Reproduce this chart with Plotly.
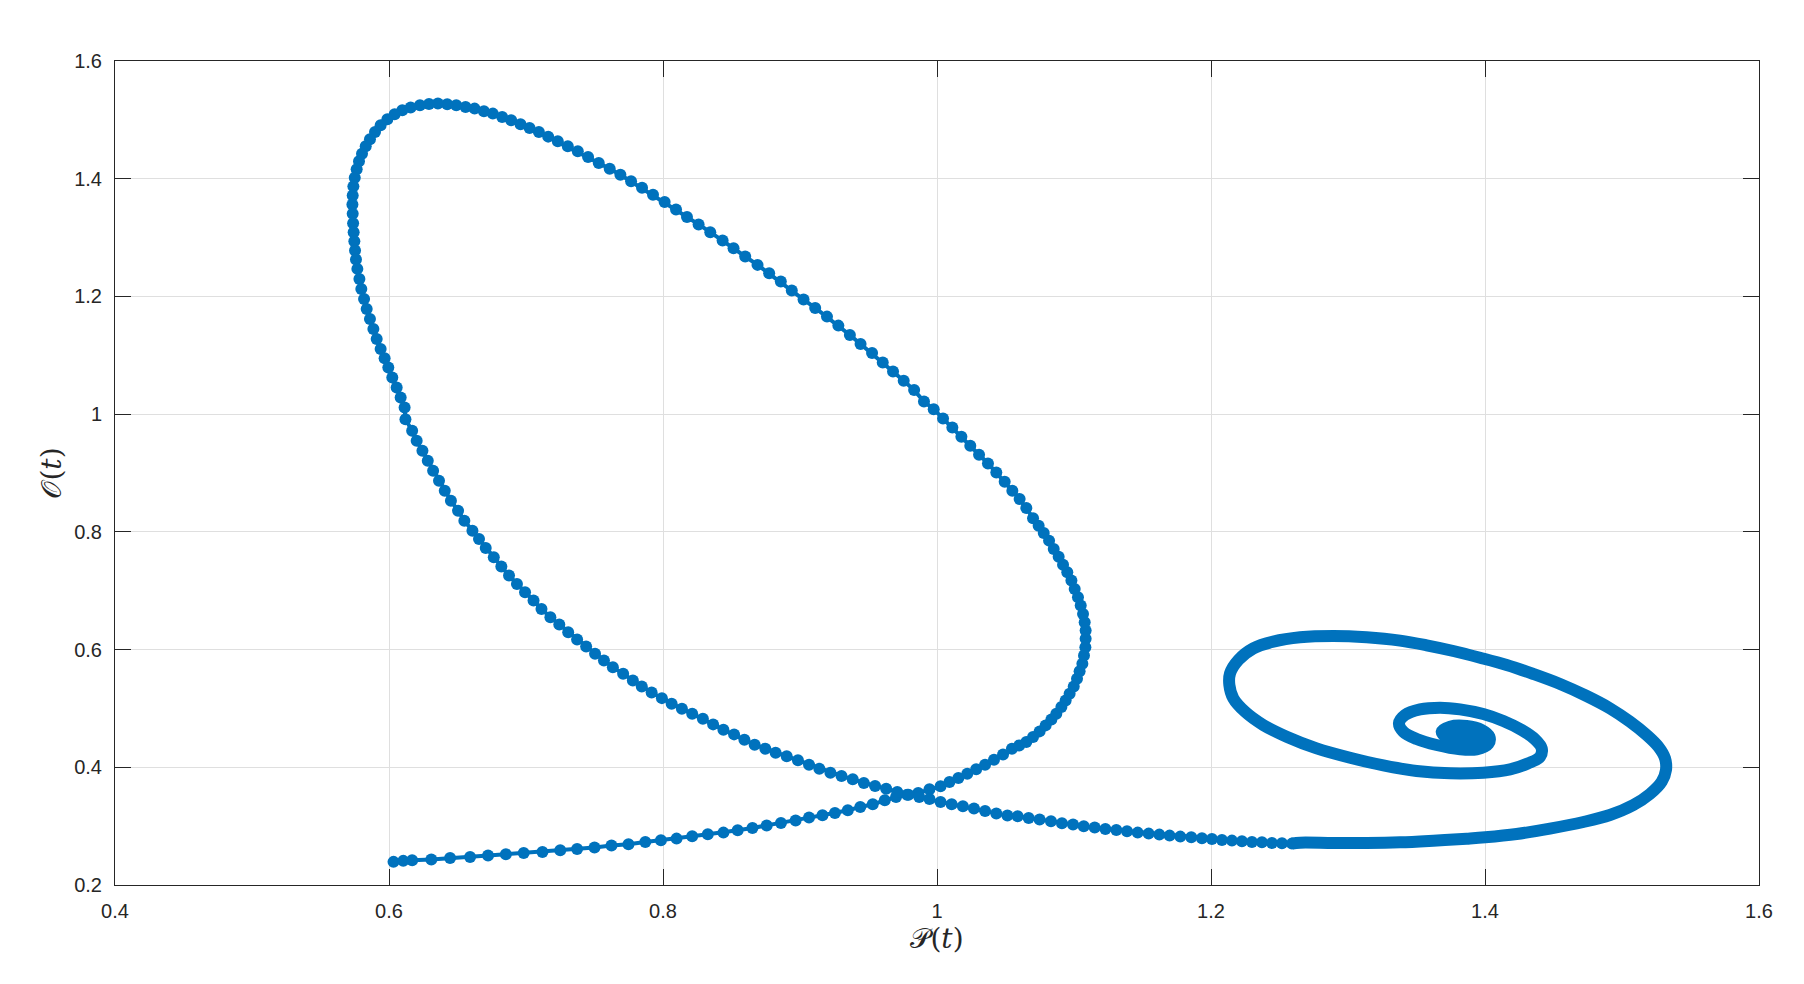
import plotly.graph_objects as go

# Trajectory (P(t), O(t)), in path order.
# Dotted part: start point -> right lobe -> top-left turn -> long descent -> bottom run
P_path = [
    0.6033, 0.6104, 0.6169, 0.6309, 0.6446, 0.6592, 0.6723, 0.6853, 0.6983, 0.7120,
    0.7250, 0.7373, 0.7500, 0.7624, 0.7748, 0.7871, 0.7985, 0.8099, 0.8213, 0.8327,
    0.8441, 0.8545, 0.8653, 0.8757, 0.8861, 0.8968, 0.9066, 0.9164, 0.9255, 0.9349,
    0.9440, 0.9531, 0.9619, 0.9701, 0.9782, 0.9863, 0.9945, 1.0026, 1.0091, 1.0156,
    1.0221, 1.0286, 1.0351, 1.0416, 1.0482, 1.0547, 1.0600,
    1.0652, 1.0701, 1.0749, 1.0793, 1.0835, 1.0871, 1.0908, 1.0939, 1.0968, 1.0998,
    1.1022, 1.1041, 1.1061, 1.1073, 1.1083, 1.1085, 1.1085, 1.1078, 1.1066, 1.1049,
    1.1029, 1.1005, 1.0981, 1.0951, 1.0920, 1.0888, 1.0852, 1.0818, 1.0779, 1.0742,
    1.0701, 1.0652, 1.0603, 1.0550, 1.0494, 1.0433, 1.0372, 1.0307, 1.0243, 1.0178,
    1.0112, 1.0044, 0.9976, 0.9905,
    0.9833, 0.9757, 0.9679, 0.9604, 0.9526, 0.9442, 0.9364, 0.9280, 0.9197,
    0.9111, 0.9026, 0.8940, 0.8860, 0.8775, 0.8690, 0.8600, 0.8515, 0.8435, 0.8345,
    0.8260, 0.8175, 0.8095, 0.8012, 0.7927, 0.7847, 0.7767, 0.7689, 0.7611, 0.7531,
    0.7453, 0.7378, 0.7305, 0.7232, 0.7162, 0.7094, 0.7026, 0.6960, 0.6892, 0.6826,
    0.6758, 0.6693, 0.6625, 0.6559, 0.6491, 0.6425, 0.6357, 0.6292, 0.6226, 0.6158,
    0.6097, 0.6041, 0.5988, 0.5939, 0.5898, 0.5861, 0.5830, 0.5803, 0.5781, 0.5764,
    0.5750, 0.5740, 0.5735, 0.5733, 0.5735, 0.5738, 0.5742, 0.5747, 0.5752, 0.5759,
    0.5769, 0.5784, 0.5798, 0.5818, 0.5837, 0.5861, 0.5886, 0.5910, 0.5939, 0.5968,
    0.5995, 0.6024, 0.6056, 0.6085, 0.6114,
    0.6120, 0.6169, 0.6202, 0.6244, 0.6283, 0.6322, 0.6365, 0.6407, 0.6452, 0.6504,
    0.6550, 0.6609, 0.6657, 0.6706, 0.6765, 0.6820, 0.6876, 0.6934, 0.6993, 0.7055,
    0.7113, 0.7178, 0.7243, 0.7308, 0.7373, 0.7439, 0.7504, 0.7569, 0.7634, 0.7709,
    0.7780, 0.7845, 0.7917, 0.7992, 0.8063, 0.8138, 0.8213, 0.8291, 0.8366, 0.8441,
    0.8519, 0.8594, 0.8669, 0.8747, 0.8822, 0.8903, 0.8985, 0.9066, 0.9141, 0.9222,
    0.9303, 0.9385, 0.9466, 0.9548, 0.9629, 0.9710, 0.9792, 0.9870, 0.9945, 1.0026,
    1.0107, 1.0189, 1.0270, 1.0351, 1.0433, 1.0514,
    1.0589, 1.0669, 1.0749, 1.0832, 1.0912, 1.0993, 1.1071, 1.1151, 1.1229, 1.1309,
    1.1387, 1.1465, 1.1545, 1.1623, 1.1698, 1.1776, 1.1856, 1.1934, 1.2007, 1.2080,
    1.2153, 1.2226, 1.2299, 1.2372, 1.2445, 1.2518, 1.2591,
]
O_path = [
    0.2393, 0.2410, 0.2421, 0.2432, 0.2460, 0.2477, 0.2500, 0.2523, 0.2545, 0.2562,
    0.2590, 0.2613, 0.2636, 0.2670, 0.2692, 0.2732, 0.2760, 0.2788, 0.2828, 0.2862,
    0.2890, 0.2930, 0.2969, 0.3009, 0.3054, 0.3094, 0.3145, 0.3184, 0.3224, 0.3269,
    0.3326, 0.3371, 0.3439, 0.3495, 0.3535, 0.3563, 0.3626, 0.3676, 0.3750, 0.3818,
    0.3891, 0.3965, 0.4044, 0.4129, 0.4219, 0.4316, 0.4370,
    0.4429, 0.4514, 0.4610, 0.4712, 0.4813, 0.4910, 0.5023, 0.5136, 0.5249, 0.5373,
    0.5503, 0.5633, 0.5758, 0.5900, 0.6041, 0.6182, 0.6324, 0.6465, 0.6606, 0.6748,
    0.6889, 0.7031, 0.7172, 0.7313, 0.7443, 0.7579, 0.7709, 0.7851, 0.7981, 0.8105,
    0.8230, 0.8405, 0.8558, 0.8699, 0.8852, 0.9010, 0.9163, 0.9310, 0.9463, 0.9615,
    0.9774, 0.9926, 1.0085, 1.0215,
    1.0409, 1.0567, 1.0726, 1.0879, 1.1038, 1.1191, 1.1345, 1.1504, 1.1657,
    1.1804, 1.1946, 1.2099, 1.2253, 1.2394, 1.2536, 1.2678, 1.2820, 1.2950, 1.3092,
    1.3223, 1.3348, 1.3478, 1.3603, 1.3728, 1.3847, 1.3955, 1.4068, 1.4170, 1.4267,
    1.4369, 1.4465, 1.4550, 1.4635, 1.4715, 1.4794, 1.4862, 1.4925, 1.4993, 1.5050,
    1.5106, 1.5146, 1.5191, 1.5220, 1.5248, 1.5265, 1.5277, 1.5271, 1.5248, 1.5209,
    1.5163, 1.5095, 1.5010, 1.4908, 1.4794, 1.4669, 1.4550, 1.4426, 1.4295, 1.4159,
    1.4017, 1.3870, 1.3716, 1.3563, 1.3404, 1.3245, 1.3092, 1.2939, 1.2780, 1.2627,
    1.2468, 1.2298, 1.2128, 1.1957, 1.1787, 1.1617, 1.1447, 1.1277, 1.1106, 1.0948,
    1.0794, 1.0624, 1.0454, 1.0284, 1.0113,
    0.9915, 0.9717, 0.9548, 0.9378, 0.9208, 0.9038, 0.8869, 0.8699, 0.8529, 0.8360,
    0.8190, 0.8020, 0.7879, 0.7726, 0.7568, 0.7410, 0.7257, 0.7115, 0.6974, 0.6833,
    0.6691, 0.6550, 0.6425, 0.6295, 0.6171, 0.6052, 0.5928, 0.5814, 0.5701, 0.5588,
    0.5475, 0.5373, 0.5271, 0.5175, 0.5079, 0.4994, 0.4910, 0.4825, 0.4729, 0.4638,
    0.4559, 0.4468, 0.4383, 0.4316, 0.4248, 0.4186, 0.4118, 0.4044, 0.3976, 0.3908,
    0.3852, 0.3795, 0.3733, 0.3682, 0.3637, 0.3580, 0.3535, 0.3495, 0.3462, 0.3411,
    0.3371, 0.3337, 0.3298, 0.3258, 0.3213, 0.3179,
    0.3168, 0.3139, 0.3111, 0.3083, 0.3049, 0.3026, 0.2998, 0.2975, 0.2952, 0.2935,
    0.2913, 0.2890, 0.2873, 0.2856, 0.2839, 0.2822, 0.2811, 0.2794, 0.2782, 0.2765,
    0.2754, 0.2743, 0.2731, 0.2726, 0.2714, 0.2709, 0.2703,
]

# Spiral toward the focus, where the points merge into a solid band
P_spiral = [
    1.2591, 1.2650, 1.2893, 1.3136, 1.3380, 1.3623, 1.3866, 1.4002, 1.4231, 1.4474,
    1.4718, 1.4912, 1.5083, 1.5204, 1.5290, 1.5321, 1.5314, 1.5265, 1.5180, 1.5058,
    1.4912, 1.4742, 1.4548, 1.4353, 1.4158, 1.3964, 1.3769, 1.3574, 1.3380, 1.3136,
    1.2893, 1.2650, 1.2455, 1.2309, 1.2200, 1.2139, 1.2134, 1.2163, 1.2248, 1.2382,
    1.2552, 1.2771, 1.3015, 1.3258, 1.3501, 1.3745, 1.3988, 1.4183, 1.4316, 1.4402,
    1.4414, 1.4365, 1.4268, 1.4134, 1.3988, 1.3818, 1.3672, 1.3526, 1.3416, 1.3372,
    1.3404, 1.3501, 1.3647, 1.3818, 1.3939, 1.4024, 1.4032, 1.3976, 1.3866, 1.3745,
    1.3684, 1.3733, 1.3842, 1.3939, 1.3964, 1.3866, 1.3793, 1.3854,
]
O_spiral = [
    0.2703, 0.2719, 0.2713, 0.2713, 0.2725, 0.2753, 0.2787, 0.2810, 0.2866, 0.2957,
    0.3070, 0.3189, 0.3359, 0.3546, 0.3756, 0.3954, 0.4152, 0.4350, 0.4548, 0.4775,
    0.5002, 0.5211, 0.5415, 0.5585, 0.5738, 0.5862, 0.5976, 0.6072, 0.6151, 0.6208,
    0.6230, 0.6208, 0.6134, 0.6021, 0.5823, 0.5596, 0.5398, 0.5171, 0.4945, 0.4718,
    0.4520, 0.4322, 0.4163, 0.4033, 0.3937, 0.3897, 0.3908, 0.3965, 0.4067, 0.4180,
    0.4322, 0.4475, 0.4633, 0.4786, 0.4905, 0.4984, 0.5013, 0.4984, 0.4888, 0.4747,
    0.4605, 0.4480, 0.4378, 0.4305, 0.4305, 0.4396, 0.4520, 0.4633, 0.4701, 0.4690,
    0.4605, 0.4492, 0.4435, 0.4464, 0.4548, 0.4605, 0.4565, 0.4509,
]

x_ticks = [0.4, 0.6, 0.8, 1.0, 1.2, 1.4, 1.6]
x_labels = ["0.4", "0.6", "0.8", "1", "1.2", "1.4", "1.6"]
y_ticks = [0.2, 0.4, 0.6, 0.8, 1.0, 1.2, 1.4, 1.6]
y_labels = ["0.2", "0.4", "0.6", "0.8", "1", "1.2", "1.4", "1.6"]

BLUE = "#0072BD"
AXIS = "#262626"
GRID = "#dfdfdf"

fig = go.Figure()

fig.add_trace(go.Scatter(
    x=P_path, y=O_path,
    mode="lines+markers",
    line=dict(color=BLUE, width=4),
    marker=dict(color=BLUE, size=12),
    hoverinfo="skip",
))

fig.add_trace(go.Scatter(
    x=P_spiral, y=O_spiral,
    mode="lines",
    line=dict(color=BLUE, width=12, shape="spline", smoothing=1),
    hoverinfo="skip",
))

axis_common = dict(
    showgrid=True, gridcolor=GRID, gridwidth=1,
    zeroline=False,
    showline=True, linecolor=AXIS, linewidth=1, mirror="ticks",
    ticks="inside", ticklen=16, tickwidth=1, tickcolor=AXIS,
    tickfont=dict(family="Liberation Sans, Arial, sans-serif", size=20, color=AXIS),
    ticklabelstandoff=8,
    automargin=False,
)

# the page body keeps its default 8px margin, so the figure is sized to fit inside it
fig.update_layout(
    width=1788, height=968,
    margin=dict(l=107, r=37, t=53, b=91),
    paper_bgcolor="white", plot_bgcolor="white",
    showlegend=False,
    xaxis=dict(
        range=[0.4, 1.6], tickvals=x_ticks, ticktext=x_labels,
        title=dict(text="𝒫(<i>t</i>)", standoff=6,
                   font=dict(family="DejaVu Serif, serif", size=28, color=AXIS)),
        **axis_common,
    ),
    yaxis=dict(
        range=[0.2, 1.6], tickvals=y_ticks, ticktext=y_labels,
        title=dict(text="𝒪(<i>t</i>)", standoff=4,
                   font=dict(family="DejaVu Serif, serif", size=28, color=AXIS)),
        **axis_common,
    ),
)

fig.write_html("out.html")
